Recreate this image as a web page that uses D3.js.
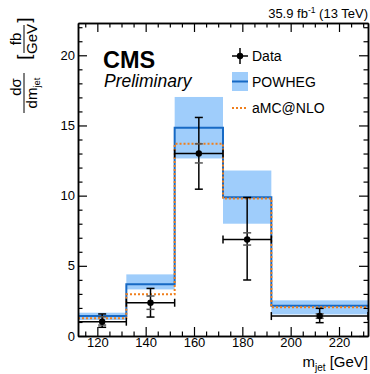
<!DOCTYPE html>
<html>
<head>
<meta charset="utf-8">
<script src="https://cdn.jsdelivr.net/npm/d3@7"></script>
<style>
  body { margin: 0; background: #fff; }
  text { font-family: "Liberation Sans", Arial, sans-serif; }
</style>
</head>
<body>
<script>
const W = 370, H = 374;
const margin = { top: 23, right: 2, bottom: 38, left: 78 };

// bins in m_jet [GeV]
const binEdges = [112, 132, 152, 172, 192, 232];
const binCenters = [122, 142, 162, 182, 212];

// POWHEG prediction with uncertainty band
const powheg = [1.42, 3.68, 14.83, 9.89, 2.16];
const powhegUp = [1.66, 4.39, 17.03, 11.79, 2.54];
const powhegDown = [1.14, 3.32, 12.65, 8.0, 1.54];

// aMC@NLO prediction
const amc = [1.26, 2.97, 13.69, 9.80, 2.04];

// measured data
const dataY = [1.02, 2.37, 13.0, 6.88, 1.42];
const totHi = [1.57, 3.39, 15.57, 9.87, 1.97];
const totLo = [0.62, 1.35, 10.46, 3.99, 0.95];
const statHi = [1.37, 2.85, 13.69, 7.35, 1.58];
const statLo = [0.78, 1.90, 12.33, 6.48, 1.26];

const xMajor = [120, 140, 160, 180, 200, 220];
const yMajor = [0, 5, 10, 15, 20];

const svg = d3.select("body").append("svg")
  .attr("width", W)
  .attr("height", H);

const x = d3.scaleLinear().domain([112, 232]).range([margin.left, W - margin.right]);
const y = d3.scaleLinear().domain([0, 22.3]).range([H - margin.bottom, margin.top]);

svg.append("clipPath").attr("id", "clip")
  .append("rect")
  .attr("x", x(112)).attr("y", y(22.3))
  .attr("width", x(232) - x(112)).attr("height", y(0) - y(22.3));

const plot = svg.append("g").attr("clip-path", "url(#clip)");

// POWHEG band
plot.append("g")
  .selectAll("rect")
  .data(powheg)
  .join("rect")
  .attr("x", (d, i) => x(binEdges[i]))
  .attr("width", (d, i) => x(binEdges[i + 1]) - x(binEdges[i]))
  .attr("y", (d, i) => y(powhegUp[i]))
  .attr("height", (d, i) => y(powhegDown[i]) - y(powhegUp[i]))
  .attr("fill", "#9fcdfb");

const step = d3.line()
  .x(d => x(d[0]))
  .y(d => y(d[1]))
  .curve(d3.curveStepAfter);

const stepPts = vals => vals.map((v, i) => [binEdges[i], v]).concat([[binEdges[vals.length], vals[vals.length - 1]]]);

plot.append("path")
  .attr("d", step(stepPts(powheg)))
  .attr("fill", "none")
  .attr("stroke", "#1769c4")
  .attr("stroke-width", 2);

plot.append("path")
  .attr("d", step(stepPts(amc)))
  .attr("fill", "none")
  .attr("stroke", "#f07f1c")
  .attr("stroke-width", 2)
  .attr("stroke-dasharray", "2,2");

// data points
const dg = plot.append("g").attr("stroke", "#000").attr("stroke-width", 1.5);
binCenters.forEach((c, i) => {
  const x0 = x(binEdges[i]), x1 = x(binEdges[i + 1]), xc = x(c);
  dg.append("line").attr("x1", x0).attr("x2", x1).attr("y1", y(dataY[i])).attr("y2", y(dataY[i]));
  dg.append("line").attr("x1", x0).attr("x2", x0).attr("y1", y(dataY[i]) - 4).attr("y2", y(dataY[i]) + 4);
  dg.append("line").attr("x1", x1).attr("x2", x1).attr("y1", y(dataY[i]) - 4).attr("y2", y(dataY[i]) + 4);
  dg.append("line").attr("x1", xc).attr("x2", xc).attr("y1", y(totHi[i])).attr("y2", y(totLo[i]));
  [totHi[i], totLo[i]].forEach(v => {
    dg.append("line").attr("x1", xc - 4).attr("x2", xc + 4).attr("y1", y(v)).attr("y2", y(v));
  });
  [statHi[i], statLo[i]].forEach(v => {
    dg.append("line").attr("x1", xc - 4).attr("x2", xc + 4).attr("y1", y(v)).attr("y2", y(v))
      .attr("stroke", "#555");
  });
});
plot.append("g")
  .selectAll("circle")
  .data(dataY)
  .join("circle")
  .attr("cx", (d, i) => x(binCenters[i]))
  .attr("cy", d => y(d))
  .attr("r", 3.2)
  .attr("fill", "#000");

// axes
const xMinor = d3.range(115, 232, 5).filter(v => !xMajor.includes(v));
const yMinor = d3.range(0, 23, 1).filter(v => !yMajor.includes(v));

const styleAxis = g => {
  g.selectAll("path.domain").attr("stroke", "#000").attr("stroke-width", 1.5);
  g.selectAll(".tick line").attr("stroke", "#000").attr("stroke-width", 1.2);
  g.selectAll(".tick text").attr("font-size", 13).attr("fill", "#000")
    .attr("font-family", "'Liberation Sans', Arial, sans-serif");
};

const bottomY = H - margin.bottom, leftX = margin.left, rightX = W - margin.right, topY = margin.top;

svg.append("g").attr("transform", `translate(0,${bottomY})`)
  .call(d3.axisBottom(x).tickValues(xMajor).tickSizeInner(-9).tickSizeOuter(0).tickPadding(2))
  .call(styleAxis);
svg.append("g").attr("transform", `translate(0,${bottomY})`)
  .call(d3.axisBottom(x).tickValues(xMinor).tickSizeInner(-4.5).tickSizeOuter(0).tickFormat(""))
  .call(styleAxis);
svg.append("g").attr("transform", `translate(0,${topY})`)
  .call(d3.axisTop(x).tickValues(xMajor).tickSizeInner(-9).tickSizeOuter(0).tickFormat(""))
  .call(styleAxis);
svg.append("g").attr("transform", `translate(0,${topY})`)
  .call(d3.axisTop(x).tickValues(xMinor).tickSizeInner(-4.5).tickSizeOuter(0).tickFormat(""))
  .call(styleAxis);

svg.append("g").attr("transform", `translate(${leftX},0)`)
  .call(d3.axisLeft(y).tickValues(yMajor).tickSizeInner(-9).tickSizeOuter(0).tickPadding(3))
  .call(styleAxis);
svg.append("g").attr("transform", `translate(${leftX},0)`)
  .call(d3.axisLeft(y).tickValues(yMinor).tickSizeInner(-4.5).tickSizeOuter(0).tickFormat(""))
  .call(styleAxis);
svg.append("g").attr("transform", `translate(${rightX},0)`)
  .call(d3.axisRight(y).tickValues(yMajor).tickSizeInner(-9).tickSizeOuter(0).tickFormat(""))
  .call(styleAxis);
svg.append("g").attr("transform", `translate(${rightX},0)`)
  .call(d3.axisRight(y).tickValues(yMinor).tickSizeInner(-4.5).tickSizeOuter(0).tickFormat(""))
  .call(styleAxis);

// x title
const xt = svg.append("text")
  .attr("x", 368).attr("y", 367)
  .attr("text-anchor", "end")
  .attr("font-size", 15);
xt.append("tspan").text("m");
xt.append("tspan").attr("font-size", 10).attr("dy", 4).text("jet");
xt.append("tspan").attr("dy", -4).text(" [GeV]");

// y title (rotated fraction)
const yt = svg.append("g").attr("transform", "translate(24,0) rotate(-90)");
yt.append("text").attr("x", -87).attr("y", -3).attr("text-anchor", "middle").attr("font-size", 15).text("dσ");
yt.append("line").attr("x1", -73).attr("x2", -113).attr("y1", 0).attr("y2", 0).attr("stroke", "#000").attr("stroke-width", 1);
const dm = yt.append("text").attr("x", -93).attr("y", 12.5).attr("text-anchor", "middle").attr("font-size", 15);
dm.append("tspan").text("dm");
dm.append("tspan").attr("font-size", 9.5).attr("dy", 3).text("jet");
yt.append("text").attr("x", -57).attr("y", 6).attr("text-anchor", "middle").attr("font-size", 19).text("[");
yt.append("text").attr("x", -20).attr("y", 6).attr("text-anchor", "middle").attr("font-size", 19).text("]");
yt.append("text").attr("x", -39).attr("y", -3).attr("text-anchor", "middle").attr("font-size", 15).text("fb");
yt.append("line").attr("x1", -25).attr("x2", -53).attr("y1", 0).attr("y2", 0).attr("stroke", "#000").attr("stroke-width", 1);
yt.append("text").attr("x", -39).attr("y", 12.5).attr("text-anchor", "middle").attr("font-size", 15).text("GeV");

// lumi label
const lumi = svg.append("text")
  .attr("x", 368).attr("y", 18)
  .attr("text-anchor", "end")
  .attr("font-size", 13);
lumi.append("tspan").text("35.9 fb");
lumi.append("tspan").attr("font-size", 8.5).attr("dy", -5).text("-1");
lumi.append("tspan").attr("dy", 5).text(" (13 TeV)");

// CMS label
svg.append("text").attr("x", 103).attr("y", 68)
  .attr("font-size", 23.5).attr("font-weight", "bold").text("CMS");
svg.append("text").attr("x", 104).attr("y", 87)
  .attr("font-size", 17.5).attr("font-style", "italic").text("Preliminary");

// legend
const lg = svg.append("g");
const lx0 = 232, lx1 = 248, ltx = 252;
lg.append("line").attr("x1", lx0).attr("x2", lx1).attr("y1", 56).attr("y2", 56).attr("stroke", "#000").attr("stroke-width", 1.5);
lg.append("line").attr("x1", 240).attr("x2", 240).attr("y1", 48).attr("y2", 64).attr("stroke", "#000").attr("stroke-width", 1.5);
lg.append("circle").attr("cx", 240).attr("cy", 56).attr("r", 3.2).attr("fill", "#000");
lg.append("text").attr("x", ltx).attr("y", 61).attr("font-size", 14).text("Data");

lg.append("rect").attr("x", lx0).attr("y", 72).attr("width", lx1 - lx0).attr("height", 19).attr("fill", "#9fcdfb");
lg.append("line").attr("x1", lx0).attr("x2", lx1).attr("y1", 81.5).attr("y2", 81.5).attr("stroke", "#1769c4").attr("stroke-width", 2);
lg.append("text").attr("x", ltx).attr("y", 86.5).attr("font-size", 14).text("POWHEG");

lg.append("line").attr("x1", lx0).attr("x2", lx1).attr("y1", 108).attr("y2", 108)
  .attr("stroke", "#f07f1c").attr("stroke-width", 2).attr("stroke-dasharray", "2,2");
lg.append("text").attr("x", ltx).attr("y", 113).attr("font-size", 14).text("aMC@NLO");
</script>
</body>
</html>
